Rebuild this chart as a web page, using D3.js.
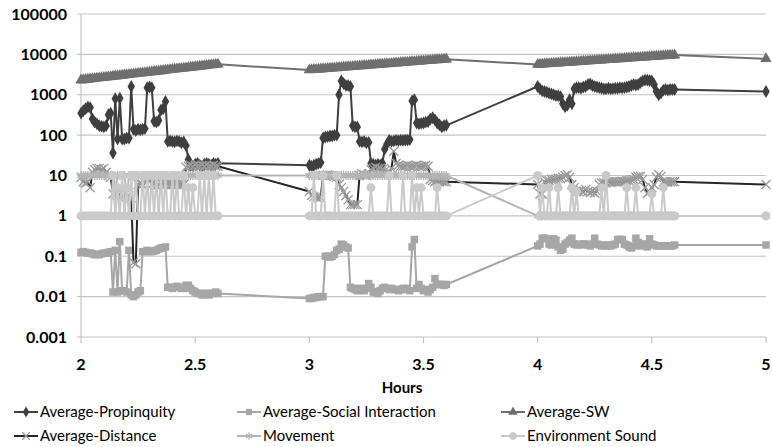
<!DOCTYPE html>
<html><head><meta charset="utf-8">
<script src="https://cdn.jsdelivr.net/npm/d3@7"></script>
<style>
html,body{margin:0;padding:0;background:#fff;}
svg{display:block;font-family:Lato,"Liberation Sans",Arial,sans-serif;}
</style></head><body>
<svg id="chart" width="772" height="447"></svg>
<script>
// ---- data ----
const hours = [
2.00,2.01,2.02,2.03,2.04,2.05,2.06,2.07,2.08,2.09,2.10,2.11,2.12,2.13,2.14,2.15,2.16,2.17,2.18,2.19,2.20,2.21,2.22,2.23,2.24,2.25,2.26,2.27,2.28,2.29,2.30,2.31,2.32,2.33,2.34,2.35,2.36,2.37,2.38,2.39,2.40,2.41,2.42,2.43,2.44,2.45,2.46,2.47,2.48,2.49,2.50,2.51,2.52,2.53,2.54,2.55,2.56,2.57,2.58,2.59,2.60,
3.00,3.01,3.02,3.03,3.04,3.05,3.06,3.07,3.08,3.09,3.10,3.11,3.12,3.13,3.14,3.15,3.16,3.17,3.18,3.19,3.20,3.21,3.22,3.23,3.24,3.25,3.26,3.27,3.28,3.29,3.30,3.31,3.32,3.33,3.34,3.35,3.36,3.37,3.38,3.39,3.40,3.41,3.42,3.43,3.44,3.45,3.46,3.47,3.48,3.49,3.50,3.51,3.52,3.53,3.54,3.55,3.56,3.57,3.58,3.59,3.60,
4.00,4.01,4.02,4.03,4.04,4.05,4.06,4.07,4.08,4.09,4.10,4.11,4.12,4.13,4.14,4.15,4.16,4.17,4.18,4.19,4.20,4.21,4.22,4.23,4.24,4.25,4.26,4.27,4.28,4.29,4.30,4.31,4.32,4.33,4.34,4.35,4.36,4.37,4.38,4.39,4.40,4.41,4.42,4.43,4.44,4.45,4.46,4.47,4.48,4.49,4.50,4.51,4.52,4.53,4.54,4.55,4.56,4.57,4.58,4.59,4.60,
5.00];

const propinquity = [
350,400,450,500,480,250,210,190,170,165,160,170,320,350,36,800,80,820,80,80,85,85,1600,140,130,140,135,140,145,1500,1550,1500,220,210,230,420,450,680,70,72,70,68,72,70,65,68,55,25,18,17,19,20,18,17,19,20,19,18,20,19,20,
18,17,18,19,20,21,85,90,92,95,95,100,100,1000,2200,1900,1700,1700,1600,170,160,160,70,68,70,65,66,20,19,18,19,18,20,45,60,75,70,72,75,73,75,74,76,75,78,700,750,200,190,195,200,210,215,250,270,240,200,180,160,170,175,
1600,1400,1250,1200,1150,1100,1050,1000,950,950,900,600,500,550,750,600,1400,1500,1500,1450,1550,1600,1800,1850,1700,1600,1550,1500,1450,1400,1400,1450,1400,1420,1450,1450,1500,1480,1500,1550,1600,1700,1800,1750,1800,2000,2200,2300,2300,2250,2200,1800,1200,1000,1100,1300,1350,1300,1350,1350,1350,
1200];

const socialInteraction = [
0.125,0.13,0.125,0.12,0.12,0.115,0.11,0.11,0.11,0.115,0.12,0.12,0.125,0.13,0.013,0.14,0.013,0.23,0.014,0.014,0.013,0.14,0.011,0.010,0.011,0.013,0.014,0.13,0.13,0.14,0.13,0.13,0.135,0.14,0.15,0.16,0.16,0.17,0.017,0.017,0.016,0.017,0.018,0.017,0.016,0.016,0.019,0.019,0.016,0.014,0.013,0.012,0.012,0.011,0.012,0.012,0.011,0.012,0.012,0.013,0.012,
0.009,0.009,0.0095,0.0095,0.010,0.010,0.010,0.1,0.1,0.095,0.1,0.11,0.14,0.15,0.2,0.19,0.17,0.16,0.017,0.016,0.015,0.014,0.016,0.015,0.014,0.016,0.021,0.017,0.013,0.013,0.012,0.014,0.016,0.017,0.016,0.015,0.016,0.015,0.015,0.014,0.015,0.016,0.015,0.016,0.014,0.17,0.26,0.016,0.02,0.016,0.014,0.015,0.013,0.015,0.017,0.028,0.02,0.02,0.02,0.019,0.02,
0.18,0.2,0.28,0.28,0.27,0.2,0.19,0.27,0.25,0.17,0.14,0.15,0.2,0.22,0.25,0.28,0.2,0.19,0.2,0.19,0.2,0.2,0.19,0.18,0.2,0.28,0.2,0.19,0.18,0.19,0.18,0.19,0.18,0.19,0.2,0.26,0.26,0.26,0.2,0.19,0.17,0.16,0.18,0.28,0.22,0.18,0.2,0.2,0.17,0.27,0.2,0.19,0.18,0.18,0.18,0.18,0.18,0.18,0.18,0.18,0.19,
0.19];

const sw = [
2300,2335,2371,2407,2444,2481,2519,2557,2596,2636,2676,2717,2758,2800,2843,2886,2930,2975,3020,3066,3113,3160,3208,3257,3307,3357,3408,3460,3513,3566,3620,3675,3731,3788,3846,3904,3963,4024,4085,4147,4210,4274,4339,4405,4472,4540,4609,4679,4750,4822,4895,4970,5045,5122,5200,5279,5359,5441,5524,5608,5693,
4100,4142,4185,4228,4272,4316,4361,4406,4452,4498,4544,4591,4639,4687,4735,4784,4834,4884,4934,4985,5037,5089,5142,5195,5249,5303,5358,5413,5469,5526,5583,5641,5699,5758,5818,5878,5939,6000,6062,6125,6188,6252,6317,6382,6448,6515,6583,6651,6720,6789,6859,6930,7002,7074,7147,7221,7296,7372,7448,7525,7603,
5600,5651,5702,5753,5805,5857,5910,5963,6017,6071,6126,6181,6237,6293,6350,6407,6465,6523,6582,6641,6701,6761,6822,6884,6946,7009,7072,7136,7200,7265,7331,7397,7464,7531,7599,7667,7736,7806,7876,7947,8019,8091,8164,8238,8312,8387,8463,8539,8616,8694,8772,8851,8931,9012,9093,9175,9258,9341,9425,9510,9596,
7800];

const distance = [
9,7,6.5,7,5,12,14,15,15,14,15,12,10,9,3.5,3.3,3.2,3.4,3.0,3.2,3.0,3.1,2.8,0.07,0.065,6,6.2,6,6.5,8,9,6,6.5,5.5,6,6.5,6,6,6.2,6,6,6.1,6,6,6,6,16,17,18,17,18,17,17,18,17,18,17,17,18,17,17,
4,3.2,3,2.9,2.8,2.9,10,10,10.5,10,10,9.5,9,6,5,4,3.2,2.5,1.9,1.9,1.9,1.9,10,11,10.5,10,11,14,15,16,15,15,14,13,12,12,15,40,20,18,17,17,17,18,17,17,17,18,17,17,17,18,17,8,7.5,7,7.2,7,7.1,7,7,
6,3.5,3.5,7,7.5,7.5,8,8,8.2,8.5,8.5,9,10,10.5,9,6,5,4,4,4.2,4,4.5,4,3.8,4,3.7,4,6,6.5,6.5,6.5,7,6.8,7,7,7,7,7.2,7,7.5,7.5,7.8,8,9,9.5,9.5,8,5,3.6,4,5,6,9,10.5,9.5,7,7,6.8,7,7,7,
6];

const movement = [
10,10,10,10,10,10,10,10,10,10,10,10,10,10,10,4,10,10,10,10,3,10,10,10,10,10,10,10,10,10,10,10,10,10,10,10,10,10,10,10,10,10,10,10,10,10,10,10,10,10,10,10,10,10,10,10,10,10,10,10,10,
10,10,10,10,10,10,10,10,10,10,10,10,10,10,10,10,10,10,10,10,10,10,10,10,10,10,10,10,10,10,10,10,10,10,10,10,10,10,10,10,10,10,10,10,10,10,10,10,10,10,10,10,10,10,10,10,10,10,10,10,10,
1,1,1,1,1,1,1,1,1,1,1,1,1,1,1,1,1,1,1,1,1,1,1,1,1,1,1,1,1,1,1,1,1,1,1,1,1,1,1,1,1,1,1,1,1,1,1,1,1,1,1,1,1,1,1,1,1,1,1,1,1,
1];

const environmentSound = [
1,1,1,1,1,1,1,1,1,1,1,1,1,1,10,1,5,1,10,1,5,1,10,1,10,1,1,10,1,10,1,10,1,10,1,10,1,10,1,1,10,1,10,1,1,10,1,5,1,5,1,1,10,1,10,1,10,1,10,1,1,
1,1,10,1,1,1,10,1,1,1,1,1,10,1,1,1,1,1,1,1,1,1,1,1,1,1,1,5,1,1,1,1,1,1,1,10,1,1,1,1,1,10,1,1,1,10,1,5,1,5,1,1,1,1,1,1,5,1,1,1,1,
10,1,5,1,1,5,1,1,1,5,1,1,1,1,1,5,1,4,1,1,1,1,1,1,1,1,1,1,5,1,10,1,1,1,1,1,1,1,1,5,1,1,1,5,1,1,1,1,1,1,3.5,1,1,1,1,5,1,1,1,1,1,
1];

const yTicks = [0.001, 0.01, 0.1, 1, 10, 100, 1000, 10000, 100000];
const yTickLabels = ["0.001","0.01","0.1","1","10","100","1000","10000","100000"];
const xTicks = [2, 2.5, 3, 3.5, 4, 4.5, 5];
const xTickLabels = ["2","2.5","3","3.5","4","4.5","5"];
const seriesNames = ["Average-Propinquity","Average-Social Interaction","Average-SW","Average-Distance","Movement","Environment Sound"];

// ---- drawing ----
const svg = d3.select("#chart");
const x = d3.scaleLinear().domain([2, 5]).range([81, 766]);
const y = d3.scaleLog().domain([0.001, 100000]).range([337, 14]);

const symX = d3.symbolX || {draw(c,s){const r=Math.sqrt(s/5)/1.2*1.5;c.moveTo(-r,-r);c.lineTo(r,r);c.moveTo(-r,r);c.lineTo(r,-r);}};
const symAst = d3.symbolAsterisk || symX;

const series = [
  {name: seriesNames[0], values: propinquity, line: "#3f3f3f", sym: d3.symbolDiamond, size: 48, fill: "#3f3f3f", stroke: "none", sw: 2},
  {name: seriesNames[1], values: socialInteraction, line: "#a6a6a6", sym: d3.symbolSquare, size: 56, fill: "#a6a6a6", stroke: "none", sw: 2},
  {name: seriesNames[2], values: sw, line: "#6f6f6f", sym: d3.symbolTriangle, size: 56, fill: "#6f6f6f", stroke: "none", sw: 2},
  {name: seriesNames[3], values: distance, line: "#262626", sym: symX, size: 55, fill: "none", stroke: "#9a9a9a", sw: 2},
  {name: seriesNames[4], values: movement, line: "#b5b5b5", sym: symAst, size: 55, fill: "none", stroke: "#b5b5b5", sw: 2},
  {name: seriesNames[5], values: environmentSound, line: "#c9c9c9", sym: d3.symbolCircle, size: 62, fill: "#c9c9c9", stroke: "none", sw: 2}
];

// gridlines
svg.append("g").selectAll("line").data(yTicks.slice(1)).join("line")
  .attr("x1", 77).attr("x2", 766)
  .attr("y1", d => y(d)).attr("y2", d => y(d))
  .attr("stroke", "#c4c4c4").attr("stroke-width", 1.2);

// axes lines
svg.append("line").attr("x1", 81).attr("x2", 81).attr("y1", 14).attr("y2", 337).attr("stroke", "#c4c4c4").attr("stroke-width", 1.2);
svg.append("line").attr("x1", 77).attr("x2", 766).attr("y1", 337).attr("y2", 337).attr("stroke", "#c4c4c4").attr("stroke-width", 1.2);
svg.append("g").selectAll("line").data(xTicks).join("line")
  .attr("x1", d => x(d)).attr("x2", d => x(d)).attr("y1", 337).attr("y2", 343)
  .attr("stroke", "#c4c4c4").attr("stroke-width", 1.2);

// tick labels
svg.append("g").selectAll("text").data(yTicks).join("text")
  .attr("x", 67).attr("y", d => y(d) + 5.5)
  .attr("text-anchor", "end").attr("font-size", 16).attr("font-weight", "bold").attr("fill", "#000")
  .text((d, i) => yTickLabels[i]);
svg.append("g").selectAll("text").data(xTicks).join("text")
  .attr("x", d => x(d)).attr("y", 370)
  .attr("text-anchor", "middle").attr("font-size", 16).attr("font-weight", "bold").attr("fill", "#000")
  .text((d, i) => xTickLabels[i]);
svg.append("text").attr("x", 402).attr("y", 393).attr("text-anchor", "middle")
  .attr("font-size", 15).attr("font-weight", "bold").text("Hours");

// series
const lineGen = d3.line().x(d => x(d[0])).y(d => y(d[1]));
series.forEach(s => {
  const pts = hours.map((h, i) => [h, s.values[i]]);
  const g = svg.append("g");
  g.append("path").attr("d", lineGen(pts)).attr("fill", "none")
    .attr("stroke", s.line).attr("stroke-width", s.sw).attr("stroke-linejoin", "round");
  const sym = d3.symbol().type(s.sym).size(s.size);
  g.selectAll("path.m").data(pts).join("path").attr("class", "m")
    .attr("transform", d => `translate(${x(d[0])},${y(d[1])})`)
    .attr("d", sym).attr("fill", s.fill).attr("stroke", s.stroke).attr("stroke-width", 1.3);
});

// legend
const legPos = [[14, 412], [237, 412], [501, 412], [14, 436], [237, 436], [501, 436]];
series.forEach((s, i) => {
  const [lx, ly] = legPos[i];
  const g = svg.append("g");
  g.append("line").attr("x1", lx).attr("x2", lx + 24).attr("y1", ly).attr("y2", ly)
    .attr("stroke", s.line).attr("stroke-width", 2);
  g.append("path").attr("transform", `translate(${lx + 12},${ly})`)
    .attr("d", d3.symbol().type(s.sym).size(s.size * 0.7)).attr("fill", s.fill).attr("stroke", s.stroke).attr("stroke-width", 1.3);
  g.append("text").attr("x", lx + 26).attr("y", ly + 5).attr("font-size", 15).attr("fill", "#000").text(s.name);
});
</script>
</body></html>
